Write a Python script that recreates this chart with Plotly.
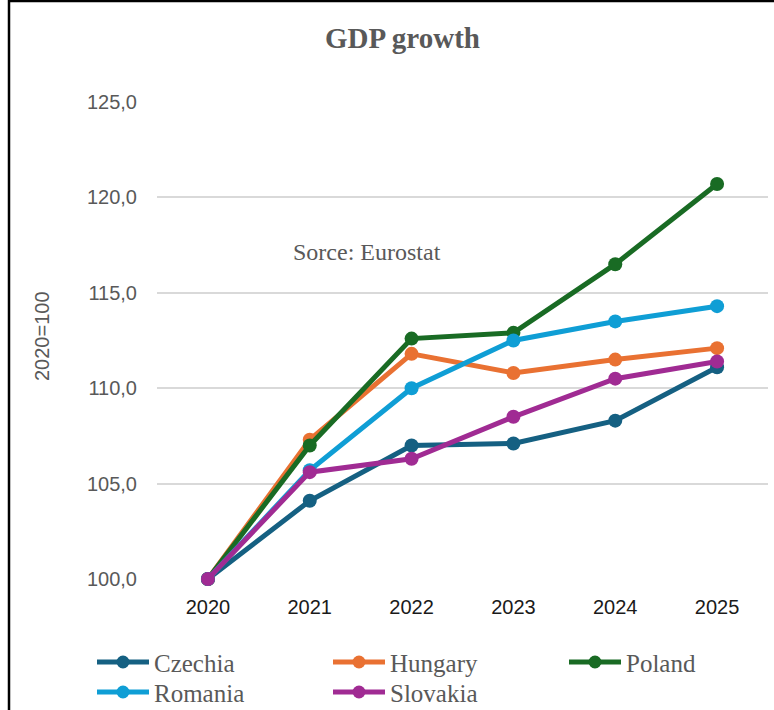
import plotly.graph_objects as go

# ---- data -------------------------------------------------------------
years = ["2020", "2021", "2022", "2023", "2024", "2025"]

czechia = [100.0, 104.1, 107.0, 107.1, 108.3, 111.1]
hungary = [100.0, 107.3, 111.8, 110.8, 111.5, 112.1]
poland = [100.0, 107.0, 112.6, 112.9, 116.5, 120.7]
romania = [100.0, 105.7, 110.0, 112.5, 113.5, 114.3]
slovakia = [100.0, 105.6, 106.3, 108.5, 110.5, 111.4]

y_ticks = [100, 105, 110, 115, 120, 125]

series = [
    ("Czechia", czechia, "#156082"),
    ("Hungary", hungary, "#E97132"),
    ("Poland", poland, "#196B24"),
    ("Romania", romania, "#0F9ED5"),
    ("Slovakia", slovakia, "#A02B93"),
]

# ---- geometry (pixels) -------------------------------------------------
W, H = 774, 710
L, R, T, B = 157, 6, 102, 131
PW, PH = W - L - R, H - T - B


def px_x(p):
    return (p - L) / PW


def px_y(p):
    return (H - B - p) / PH


GRAY = "#595959"
SERIF = "Liberation Serif, Times New Roman, serif"
SANS = "Liberation Sans, Arial, sans-serif"

fig = go.Figure()

for name, vals, color in series:
    fig.add_trace(
        go.Scatter(
            x=years,
            y=vals,
            name=name,
            mode="lines+markers",
            line=dict(color=color, width=5),
            marker=dict(color=color, size=14),
            cliponaxis=False,
            showlegend=False,
        )
    )

shapes = []
annotations = []

# chart frame (left and top edges)
shapes.append(dict(type="line", xref="paper", yref="paper",
                   x0=px_x(9), x1=px_x(9), y0=px_y(0), y1=px_y(H + 5),
                   line=dict(color="#000000", width=2.5)))
shapes.append(dict(type="line", xref="paper", yref="paper",
                   x0=px_x(8), x1=px_x(W + 5), y0=px_y(1), y1=px_y(1),
                   line=dict(color="#000000", width=2.5)))

# legend drawn below the plot: 3 columns, 2 rows
col_x = [97, 333, 569]
row_y = [662, 692]
sw_len = 52
for i, (name, vals, color) in enumerate(series):
    cx = col_x[i % 3]
    cy = row_y[i // 3]
    shapes.append(dict(type="line", xref="paper", yref="paper",
                       x0=px_x(cx), x1=px_x(cx + sw_len),
                       y0=px_y(cy), y1=px_y(cy),
                       line=dict(color=color, width=5)))
    mx = cx + sw_len / 2
    r = 6.5
    shapes.append(dict(type="circle", xref="paper", yref="paper",
                       x0=px_x(mx - r), x1=px_x(mx + r),
                       y0=px_y(cy + r), y1=px_y(cy - r),
                       fillcolor=color, line=dict(color=color, width=0)))
    annotations.append(dict(xref="paper", yref="paper",
                            x=px_x(cx + sw_len + 3), y=px_y(cy + 1),
                            xanchor="left", yanchor="middle",
                            text=name, showarrow=False,
                            font=dict(family=SERIF, size=25, color=GRAY)))

# title
annotations.append(dict(xref="paper", yref="paper",
                        x=px_x(402), y=px_y(38),
                        xanchor="center", yanchor="middle",
                        text="<b>GDP growth</b>", showarrow=False,
                        font=dict(family=SERIF, size=29, color=GRAY)))

# source note
annotations.append(dict(xref="paper", yref="paper",
                        x=px_x(291), y=px_y(252),
                        xanchor="left", yanchor="middle",
                        text="Sorce: Eurostat", showarrow=False,
                        font=dict(family=SERIF, size=24, color=GRAY)))

# y-axis title
annotations.append(dict(xref="paper", yref="paper",
                        x=px_x(42), y=px_y(336),
                        xanchor="center", yanchor="middle",
                        text="2020=100", textangle=-90, showarrow=False,
                        font=dict(family=SANS, size=20, color=GRAY)))

fig.update_layout(
    width=W,
    height=H,
    margin=dict(l=L, r=R, t=T, b=B),
    paper_bgcolor="white",
    plot_bgcolor="white",
    separators=",.",
    shapes=shapes,
    annotations=annotations,
    showlegend=False,
    xaxis=dict(
        type="category",
        range=[-0.5, 5.5],
        showgrid=False,
        zeroline=False,
        showline=False,
        ticks="",
        ticklabelstandoff=14,
        tickfont=dict(family=SANS, size=20, color="#1a1a1a"),
    ),
    yaxis=dict(
        range=[100, 125],
        tickvals=y_ticks,
        tickformat=".1f",
        showgrid=True,
        gridcolor="#d9d9d9",
        gridwidth=1.5,
        zeroline=False,
        showline=False,
        ticks="",
        ticklabelstandoff=19,
        tickfont=dict(family=SANS, size=20, color=GRAY),
    ),
)

fig.write_html("out.html")
